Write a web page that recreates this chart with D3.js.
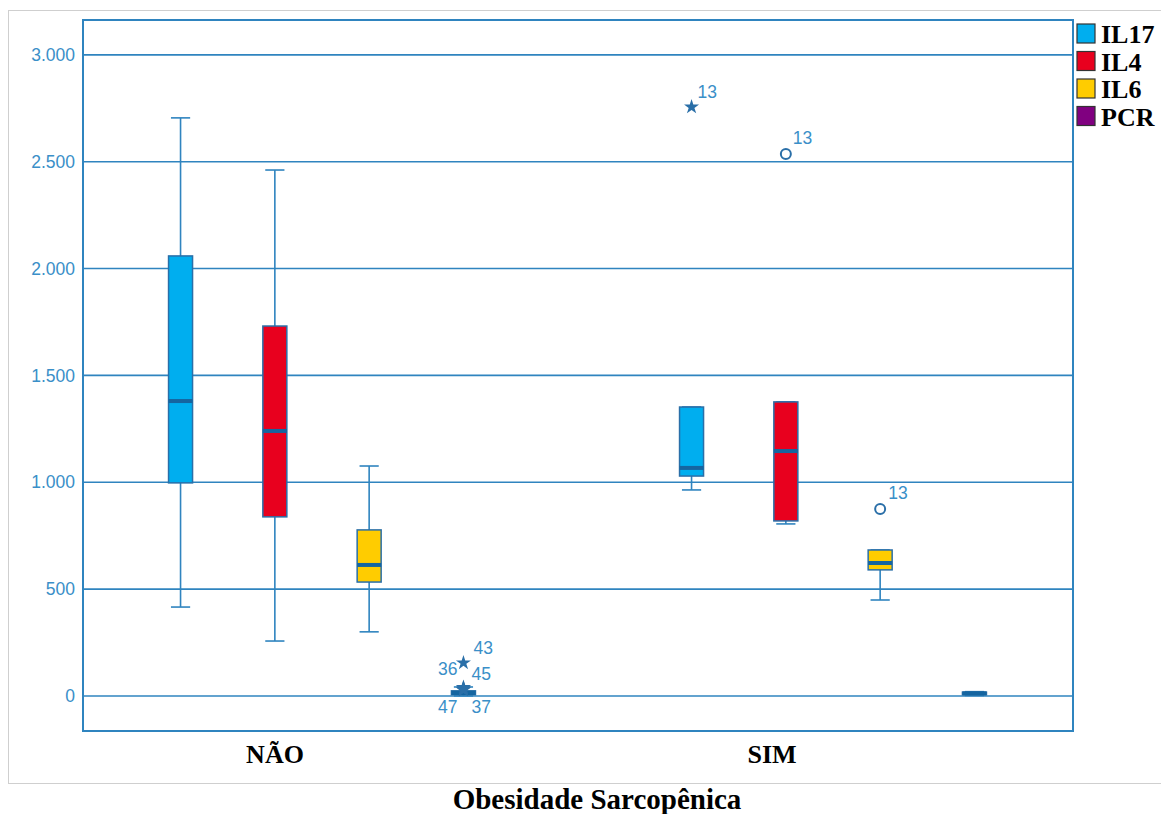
<!DOCTYPE html>
<html>
<head>
<meta charset="utf-8">
<script src="https://cdn.jsdelivr.net/npm/d3@7"></script>
<style>
  body { margin: 0; background: #fff; }
  svg text { font-family: "Liberation Sans", Arial, sans-serif; }
</style>
</head>
<body>
<div id="graph"></div>
<script>
// categories and series
var groups = ["NÃO", "SIM"];
var series = ["IL17", "IL4", "IL6", "PCR"];
var seriesColors = ["#00aeef", "#e8001e", "#ffcc00", "#800080"];
var yTicks = [0, 500, 1000, 1500, 2000, 2500, 3000];

// box stats [low whisker, q1, median, q3, high whisker], one entry per series
var boxNao = [
  [416, 997, 1380, 2059, 2705],
  [257, 838, 1240, 1731, 2461],
  [300, 533, 613, 777, 1076],
  [0, 6, 14, 24, 42]
];
var boxSim = [
  [964, 1029, 1067, 1352, 1352],
  [805, 819, 1146, 1376, 1376],
  [449, 590, 622, 683, 683],
  [2, 6, 12, 18, 20]
];

// outliers: group, series, value, case label, type
var outlierGroup = ["NÃO", "NÃO", "NÃO", "NÃO", "NÃO", "SIM", "SIM", "SIM"];
var outlierSeries = ["PCR", "PCR", "PCR", "PCR", "PCR", "IL17", "IL4", "IL6"];
var outlierValue = [155, 40, 36, 30, 28, 2756, 2536, 875];
var outlierCase = ["43", "36", "45", "47", "37", "13", "13", "13"];
var outlierKind = ["star", "star", "star", "star", "star", "star", "circle", "circle"];

// label placement around each marker (dx, dy, anchor) - SPSS style
var labelDx = [10, -6, 8, -6, 8, 6, 7, 8];
var labelDy = [-9, -12, -8, 23, 23, -9, -10, -10];
var labelAnchor = ["start", "end", "start", "end", "start", "start", "start", "start"];

var W = 1161, H = 814;
var frame = {left: 83, top: 20, right: 1073, bottom: 731};

var svg = d3.select("#graph").append("svg")
    .attr("width", W)
    .attr("height", H);

// outer light border
svg.append("rect")
    .attr("x", 8.5).attr("y", 10.5)
    .attr("width", 1170).attr("height", 773)
    .attr("fill", "none")
    .attr("stroke", "#cfcfcf");

var yScale = d3.scaleLinear()
    .domain([-164, 3163])
    .range([frame.bottom, frame.top]);

var xGroup = d3.scalePoint()
    .domain(groups)
    .range([322, 833]);

var xSeries = d3.scaleBand()
    .domain(series)
    .range([-188.6, 188.6]);

var color = d3.scaleOrdinal().domain(series).range(seriesColors);

var lineBlue = "#2f84bf";
var boxStroke = "#2a6fa8";
var medianBlue = "#1565a0";
var boxW = 24;

// gridlines
svg.append("g")
    .selectAll("line")
    .data(yTicks)
    .enter()
    .append("line")
    .attr("x1", frame.left).attr("x2", frame.right)
    .attr("y1", function(d) { return yScale(d); })
    .attr("y2", function(d) { return yScale(d); })
    .attr("stroke", lineBlue)
    .attr("stroke-width", 1.6);

// y axis labels
var fmt = function(d) { return d === 0 ? "0" : d3.format(",")(d).replace(",", "."); };
svg.append("g")
    .selectAll("text")
    .data(yTicks)
    .enter()
    .append("text")
    .attr("x", 75)
    .attr("y", function(d) { return yScale(d); })
    .attr("dy", "0.35em")
    .attr("text-anchor", "end")
    .attr("fill", "#3a8fc8")
    .style("font-size", "17.5px")
    .text(fmt);

// frame
svg.append("rect")
    .attr("x", frame.left).attr("y", frame.top)
    .attr("width", frame.right - frame.left)
    .attr("height", frame.bottom - frame.top)
    .attr("fill", "none")
    .attr("stroke", lineBlue)
    .attr("stroke-width", 2);

// build box table
var boxes = [];
groups.forEach(function(g, gi) {
  var rows = gi === 0 ? boxNao : boxSim;
  series.forEach(function(s, si) {
    var r = rows[si];
    boxes.push({group: g, series: s, lo: r[0], q1: r[1], med: r[2], q3: r[3], hi: r[4]});
  });
});
function cx(d) { return xGroup(d.group) + xSeries(d.series) + xSeries.bandwidth() / 2; }

var bx = svg.append("g").selectAll("g")
    .data(boxes)
    .enter()
    .append("g");

// whiskers
bx.append("line")
    .attr("x1", cx).attr("x2", cx)
    .attr("y1", function(d) { return yScale(d.hi); })
    .attr("y2", function(d) { return yScale(d.lo); })
    .attr("stroke", lineBlue)
    .attr("stroke-width", 1.6);
bx.selectAll(".cap")
    .data(function(d) { return [{d: d, v: d.lo}, {d: d, v: d.hi}]; })
    .enter()
    .append("line")
    .attr("class", "cap")
    .attr("x1", function(c) { return cx(c.d) - boxW * 0.4; })
    .attr("x2", function(c) { return cx(c.d) + boxW * 0.4; })
    .attr("y1", function(c) { return yScale(c.v); })
    .attr("y2", function(c) { return yScale(c.v); })
    .attr("stroke", lineBlue)
    .attr("stroke-width", 1.6);
// box
bx.append("rect")
    .attr("x", function(d) { return cx(d) - boxW / 2; })
    .attr("y", function(d) { return yScale(d.q3); })
    .attr("width", boxW)
    .attr("height", function(d) { return Math.max(2, yScale(d.q1) - yScale(d.q3)); })
    .attr("fill", function(d) { return d.series === "PCR" ? medianBlue : color(d.series); })
    .attr("stroke", boxStroke)
    .attr("stroke-width", 1.5);
// median
bx.append("line")
    .attr("x1", function(d) { return cx(d) - boxW / 2; })
    .attr("x2", function(d) { return cx(d) + boxW / 2; })
    .attr("y1", function(d) { return yScale(d.med); })
    .attr("y2", function(d) { return yScale(d.med); })
    .attr("stroke", medianBlue)
    .attr("stroke-width", 4);

// outliers
var outliers = outlierValue.map(function(v, i) {
  return {group: outlierGroup[i], series: outlierSeries[i], value: v, label: outlierCase[i],
          kind: outlierKind[i], dx: labelDx[i], dy: labelDy[i], anchor: labelAnchor[i]};
});
var star = d3.symbol().type(d3.symbolStar).size(70);
var og = svg.append("g").selectAll("g")
    .data(outliers)
    .enter()
    .append("g")
    .attr("transform", function(d) { return "translate(" + cx(d) + "," + yScale(d.value) + ")"; });
og.filter(function(d) { return d.kind === "star"; })
    .append("path")
    .attr("d", star)
    .attr("fill", boxStroke);
og.filter(function(d) { return d.kind === "circle"; })
    .append("circle")
    .attr("r", 5)
    .attr("fill", "none")
    .attr("stroke", boxStroke)
    .attr("stroke-width", 2);
og.append("text")
    .attr("x", function(d) { return d.dx; })
    .attr("y", function(d) { return d.dy; })
    .attr("text-anchor", function(d) { return d.anchor; })
    .attr("fill", "#3a8fc8")
    .style("font-size", "17.5px")
    .text(function(d) { return d.label; });

// category labels
var catX = {"NÃO": 275, "SIM": 772};
svg.append("g")
    .selectAll("text")
    .data(groups)
    .enter()
    .append("text")
    .attr("x", function(d) { return catX[d]; })
    .attr("y", 763)
    .attr("text-anchor", "middle")
    .style("font-family", "'Liberation Serif', 'Times New Roman', serif")
    .style("font-weight", "bold")
    .style("font-size", "26px")
    .text(function(d) { return d; });

// axis title
svg.append("text")
    .attr("x", 597)
    .attr("y", 809)
    .attr("text-anchor", "middle")
    .style("font-family", "'Liberation Serif', 'Times New Roman', serif")
    .style("font-weight", "bold")
    .style("font-size", "29px")
    .text("Obesidade Sarcopênica");

// legend
var lg = svg.append("g")
    .selectAll("g")
    .data(series)
    .enter()
    .append("g")
    .attr("transform", function(d, i) { return "translate(1077," + (24 + i * 27.5) + ")"; });
lg.append("rect")
    .attr("width", 18).attr("height", 19)
    .attr("fill", function(d) { return color(d); })
    .attr("stroke", "#333")
    .attr("stroke-width", 1.2);
lg.append("text")
    .attr("x", 24)
    .attr("y", 10)
    .attr("dy", "0.36em")
    .style("font-family", "'Liberation Serif', 'Times New Roman', serif")
    .style("font-weight", "bold")
    .style("font-size", "26px")
    .text(function(d) { return d; });
</script>
</body>
</html>
